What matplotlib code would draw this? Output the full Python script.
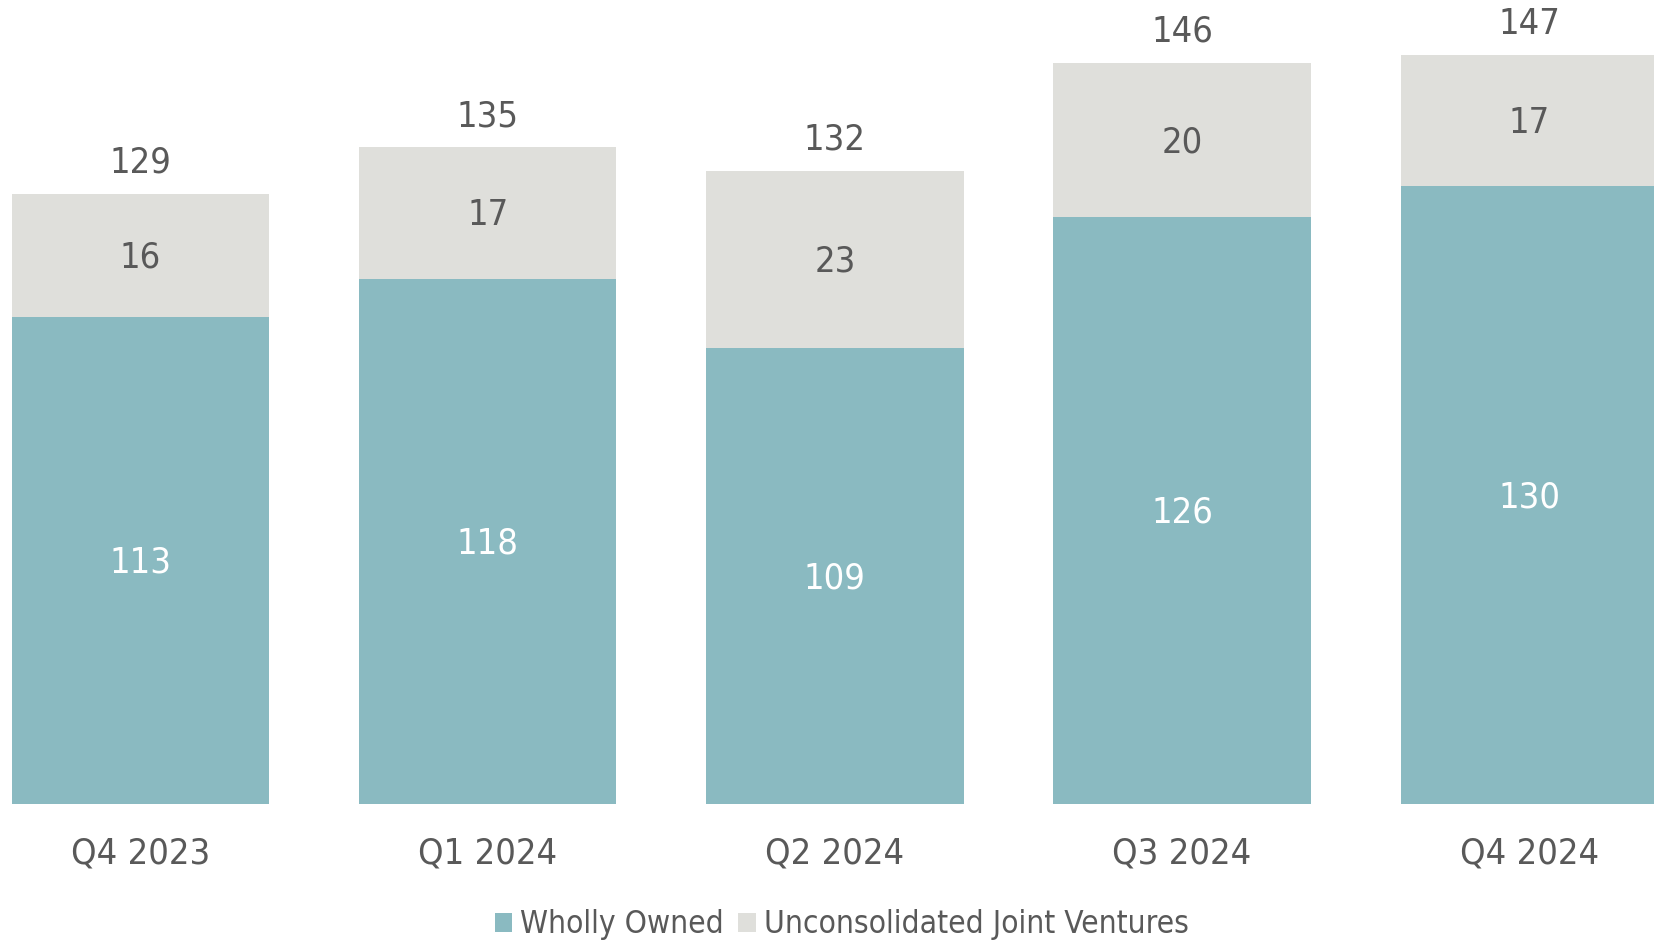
import matplotlib
matplotlib.use("Agg")
import matplotlib.pyplot as plt
from matplotlib.patches import Patch

quarters = ["Q4 2023", "Q1 2024", "Q2 2024", "Q3 2024", "Q4 2024"]
wholly_owned = [113, 118, 109, 126, 130]
joint_ventures = [16, 17, 23, 20, 17]
totals = [129, 135, 132, 146, 147]

teal = "#8ABAC1"
grey = "#DFDFDB"
text_grey = "#595959"

plt.rcParams["font.family"] = ["DejaVu Sans"]
font = dict(fontstretch="condensed")

fig = plt.figure(figsize=(16.54, 9.43), dpi=100)
ax = fig.add_axes([0, 0.1479, 1, 0.8521])

x = list(range(len(quarters)))
width = 0.741
ymin = 50
ax.bar(x, wholly_owned, width, color=teal, linewidth=0)
ax.bar(x, joint_ventures, width, bottom=wholly_owned, color=grey, linewidth=0)
ax.set_ylim(ymin, 154.1)
ax.set_xlim(-0.4044, 4.359)

for i in x:
    w, j, t = wholly_owned[i], joint_ventures[i], totals[i]
    ax.text(i, (ymin + w) / 2 - 0.3, f"{w}", ha="center", va="center", color="white",
            fontsize=26, **font)
    ax.text(i, w + j / 2 - 0.3, f"{j}", ha="center", va="center", color=text_grey,
            fontsize=26, **font)
    ax.text(i, w + j + 1.8, f"{t}", ha="center", va="bottom", color=text_grey,
            fontsize=26, **font)

ax.set_xticks(x)
ax.set_xticklabels(quarters, fontsize=26, color=text_grey, **font)
ax.tick_params(axis="x", length=0, pad=24)
ax.set_yticks([])
for s in ax.spines.values():
    s.set_visible(False)

handles = [Patch(facecolor=teal, label="Wholly Owned"),
           Patch(facecolor=grey, label="Unconsolidated Joint Ventures")]
leg = fig.legend(handles=handles, loc="center", bbox_to_anchor=(0.509, 1 - 925 / 943),
                 ncol=2, frameon=False, handlelength=0.55, handleheight=0.55,
                 handletextpad=0.27, columnspacing=0.45,
                 prop=dict(family="DejaVu Sans", stretch="condensed", size=22.7))
for t in leg.get_texts():
    t.set_color(text_grey)

fig.savefig("out.png", dpi=100)
